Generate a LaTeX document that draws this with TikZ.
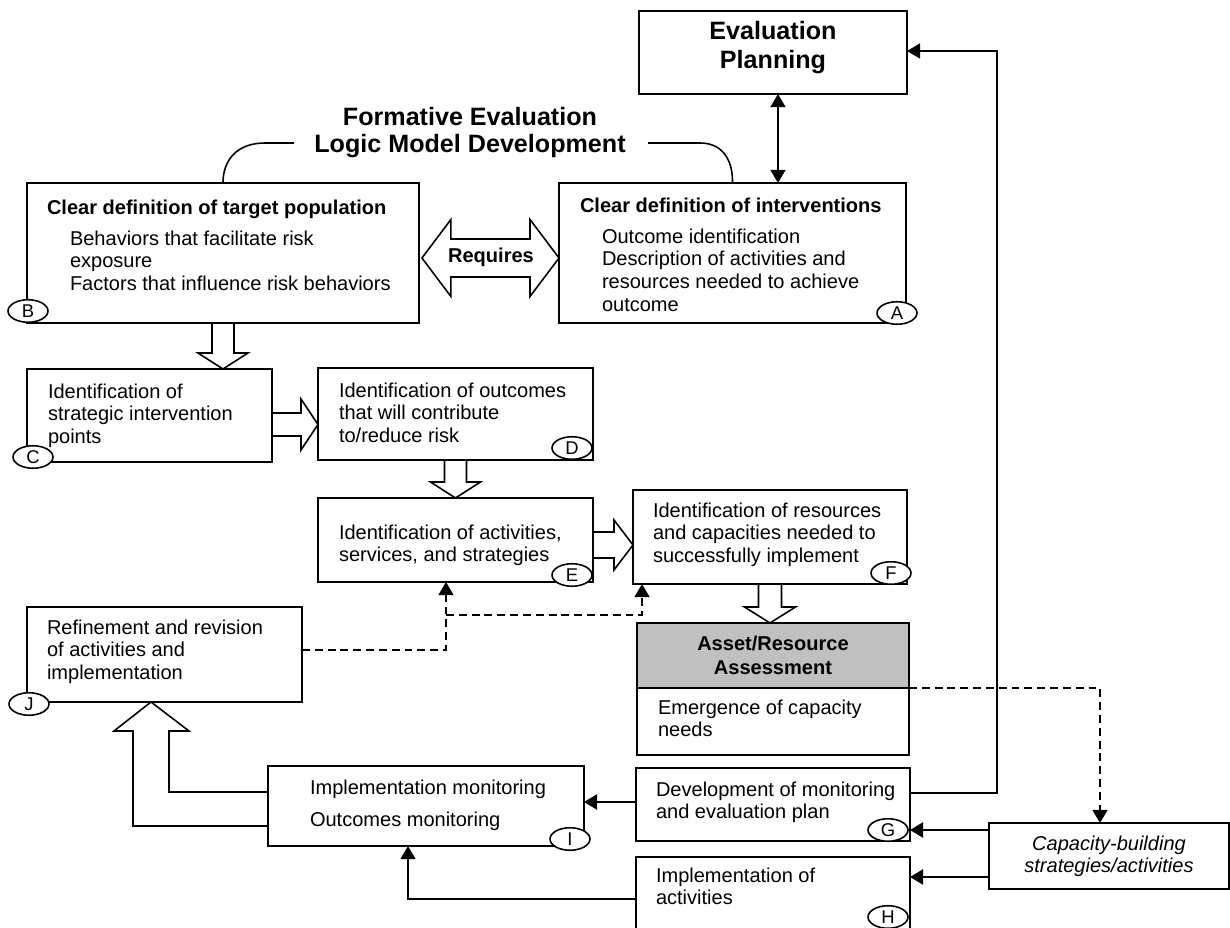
\documentclass[tikz,border=0pt]{standalone}
\usepackage{fontspec}
\setmainfont{Liberation Sans}
\usetikzlibrary{arrows.meta,calc,shapes.geometric}
\pgfdeclarelayer{bg}
\pgfsetlayers{bg,main}
\definecolor{assetgray}{RGB}{192,192,192}
\tikzset{
  box/.style={draw, line width=1.1pt, inner sep=0pt, outer sep=0pt, anchor=north west},
  txt/.style={inner sep=0pt, outer sep=0pt, align=left, anchor=north west, font=\fontsize{11.4}{13}\selectfont},
  btxt/.style={txt, font=\bfseries\fontsize{11.4}{13}\selectfont},
  bigtxt/.style={inner sep=0pt, outer sep=0pt, align=center, font=\bfseries\fontsize{14.3}{15.4}\selectfont},
  tag/.style={draw, ellipse, fill=white, line width=0.9pt, minimum width=0.80cm, minimum height=0.45cm, inner sep=0pt, font=\fontsize{10.5}{10.5}\selectfont},
  conn/.style={line width=1.1pt, -{Triangle[length=7.5pt,width=8.5pt]}},
  tconn/.style={line width=1.5pt, -{Triangle[length=7.5pt,width=8.5pt]}},
  dconn/.style={line width=1.1pt, dash pattern=on 4.5pt off 2.8pt, -{Triangle[length=7.5pt,width=8.5pt]}},
  harrow/.style={draw, fill=white, line width=0.9pt, line join=miter},
  bracket/.style={line width=0.9pt},
}
\begin{document}
\begin{tikzpicture}[x=0.02cm,y=-0.02cm]
\useasboundingbox (0,0) rectangle (1230,928);
% ---------- boxes ----------
\node[box, minimum width=5.36cm, minimum height=1.66cm] (EP) at (639,11) {};
\node[box, minimum width=7.84cm, minimum height=2.80cm] (B) at (27,183) {};
\node[box, minimum width=6.94cm, minimum height=2.80cm] (A) at (559,183) {};
\node[box, minimum width=4.90cm, minimum height=1.86cm] (C) at (27,369) {};
\node[box, minimum width=5.50cm, minimum height=1.84cm] (D) at (318,368) {};
\node[box, minimum width=5.50cm, minimum height=1.68cm] (E) at (318,498) {};
\node[box, minimum width=5.48cm, minimum height=1.88cm] (F) at (633,490) {};
\node[box, fill=assetgray, minimum width=5.44cm, minimum height=1.30cm] (Ag) at (637,623) {};
\node[box, minimum width=5.44cm, minimum height=1.34cm] (Ab) at (637,688) {};
\node[box, minimum width=5.50cm, minimum height=1.90cm] (J) at (27,607) {};
\node[box, minimum width=6.32cm, minimum height=1.60cm] (I) at (268,766) {};
\node[box, minimum width=5.48cm, minimum height=1.46cm] (G) at (636,768) {};
\node[box, minimum width=5.48cm, minimum height=2.00cm] (H) at (636,857) {};
\node[box, minimum width=4.80cm, minimum height=1.32cm] (Cap) at (989,823) {};
% ---------- texts ----------
\node[bigtxt] (title) at (470,132.5) {Formative Evaluation\\Logic Model Development};
\node[bigtxt, font=\bfseries\fontsize{14.3}{16.4}\selectfont] (EPt) at ($(EP.center)+(0,-5)$) {Evaluation\\Planning};
\node[btxt] (Bt) at (47,199.5) {Clear definition of target population};
\node[txt] (Bi) at (70,230.5) {Behaviors that facilitate risk\\exposure\\Factors that influence risk behaviors};
\node[btxt] (At) at (580,197.5) {Clear definition of interventions};
\node[txt] (Ai) at (602,228.5) {Outcome identification\\Description of activities and\\resources needed to achieve\\outcome};
\node[txt] (Ct) at (48,383.5) {Identification of\\strategic intervention\\points};
\node[txt] (Dt) at (339,382.5) {Identification of outcomes\\that will contribute\\to/reduce risk};
\node[txt] (Et) at (339,524.5) {Identification of activities,\\services, and strategies};
\node[txt] (Ft) at (653,502.5) {Identification of resources\\and capacities needed to\\successfully implement};
\node[bigtxt, font=\bfseries\fontsize{11.4}{13.6}\selectfont] (Agt) at (Ag.center) {Asset/Resource\\Assessment};
\node[txt] (Abt) at (658,699.5) {Emergence of capacity\\needs};
\node[txt] (Jt) at (47,619.5) {Refinement and revision\\of activities and\\implementation};
\node[txt] (It) at (310,779.5) {Implementation monitoring\\[5.5pt]Outcomes monitoring};
\node[txt] (Gt) at (656,781.5) {Development of monitoring\\and evaluation plan};
\node[txt] (Ht) at (656,867.5) {Implementation of\\activities};
\node[inner sep=0pt, align=center, font=\itshape\fontsize{11.4}{12.6}\selectfont] (Capt) at (Cap.center) {Capacity-building\\strategies/activities};
\node[inner sep=0pt, font=\bfseries\fontsize{11.4}{13}\selectfont] (Req) at (491,257) {Requires};
% ---------- block arrows ----------
\begin{pgfonlayer}{bg}
\coordinate (bc) at (B.south |- C.north);
\draw[harrow] ($(B.south)+(-11,0)$) -- ($(bc)+(-11,-16)$) -- ($(bc)+(-25,-16)$) -- (bc) -- ($(bc)+(25,-16)$) -- ($(bc)+(11,-16)$) -- ($(B.south)+(11,0)$);
\coordinate (cd0) at (0,424.5);
\coordinate (cdp) at (C.east |- cd0);
\coordinate (cdq) at (D.west |- cd0);
\draw[harrow] ($(cdp)+(0,-11.5)$) -- ($(cdq)+(-17,-11.5)$) -- ($(cdq)+(-17,-25.5)$) -- (cdq) -- ($(cdq)+(-17,25.5)$) -- ($(cdq)+(-17,11.5)$) -- ($(cdp)+(0,11.5)$);
\coordinate (de) at (D.south |- E.north);
\draw[harrow] ($(D.south)+(-11,0)$) -- ($(de)+(-11,-16)$) -- ($(de)+(-25,-16)$) -- (de) -- ($(de)+(25,-16)$) -- ($(de)+(11,-16)$) -- ($(D.south)+(11,0)$);
\coordinate (ef0) at (0,545);
\coordinate (efp) at (E.east |- ef0);
\coordinate (efq) at (F.west |- ef0);
\draw[harrow] ($(efp)+(0,-13)$) -- ($(efq)+(-19,-13)$) -- ($(efq)+(-19,-25)$) -- (efq) -- ($(efq)+(-19,25)$) -- ($(efq)+(-19,13)$) -- ($(efp)+(0,13)$);
\coordinate (fa) at (F.south |- Ag.north);
\draw[harrow] ($(F.south)+(-11.5,0)$) -- ($(fa)+(-11.5,-16)$) -- ($(fa)+(-25.5,-16)$) -- (fa) -- ($(fa)+(25.5,-16)$) -- ($(fa)+(11.5,-16)$) -- ($(F.south)+(11.5,0)$);
\coordinate (r0) at (0,258);
\coordinate (rl) at ($(B.east |- r0)+(3,0)$);
\coordinate (rr) at (A.west |- r0);
\draw[harrow] (rl) -- ($(rl)+(29,-38.5)$) -- ($(rl)+(29,-19)$) -- ($(rr)+(-29,-19)$) -- ($(rr)+(-29,-38.5)$) -- (rr) -- ($(rr)+(-29,38.5)$) -- ($(rr)+(-29,19)$) -- ($(rl)+(29,19)$) -- ($(rl)+(29,38.5)$) -- cycle;
\coordinate (ij) at (151,0);
\coordinate (ijq) at (ij |- J.south);
\coordinate (ia) at (0,826);
\coordinate (ib) at (0,792);
\draw[harrow] (I.west |- ia) -- (133,826) -- (133,731) -- (114,731) -- (ijq) -- (189,731) -- (169,731) -- (169,792) -- (I.west |- ib);
\end{pgfonlayer}
% ---------- brackets ----------
\draw[bracket] (294,143) -- (265,143) .. controls (237,143) and (223,160) .. (B.north);
\draw[bracket] (648,143) -- (700,143) .. controls (724,143) and (733,162) .. (A.north);
% ---------- connectors ----------
\draw[line width=1.1pt, {Triangle[length=7.5pt,width=8.5pt]}-{Triangle[length=7.5pt,width=8.5pt]}] ($(EP.south)+(5,0)$) -- ($(EP.south |- A.north)+(5,0)$);
\coordinate (k1) at (997,793);
\coordinate (k2) at (997,51);
\draw[conn] (G.east |- k1) -- (k1) -- (k2) -- (EP.east |- k2);
\coordinate (gi) at (0,802);
\draw[tconn] (G.west |- gi) -- (I.east |- gi);
\coordinate (cg) at (0,830);
\draw[tconn] (Cap.west |- cg) -- (G.east |- cg);
\coordinate (ch) at (0,877);
\draw[tconn] (Cap.west |- ch) -- (H.east |- ch);
\coordinate (hi) at (408,899);
\draw[conn] (H.west |- hi) -- (hi) -- (hi |- I.south);
\coordinate (ac) at (1100,688);
\draw[dconn] (Ab.north east) -- (ac) -- (ac |- Cap.north);
\coordinate (je) at (446,650);
\draw[dconn] (J.east |- je) -- (je) -- (je |- E.south);
\coordinate (jf) at (446,615);
\coordinate (jf2) at (642,615);
\draw[dconn] (jf) -- (jf2) -- (jf2 |- F.south);
% ---------- tags ----------
\node[tag] (tB) at (28,311) {B};
\node[tag] (tA) at (897,313) {A};
\node[tag] (tC) at (33,457) {C};
\node[tag] (tD) at (572,448) {D};
\node[tag] (tE) at (572,575) {E};
\node[tag] (tF) at (891,573) {F};
\node[tag] (tJ) at (29,704) {J};
\node[tag] (tI) at (570,839) {I};
\node[tag] (tG) at (888,830) {G};
\node[tag] (tH) at (888,917) {H};
\end{tikzpicture}
\end{document}
